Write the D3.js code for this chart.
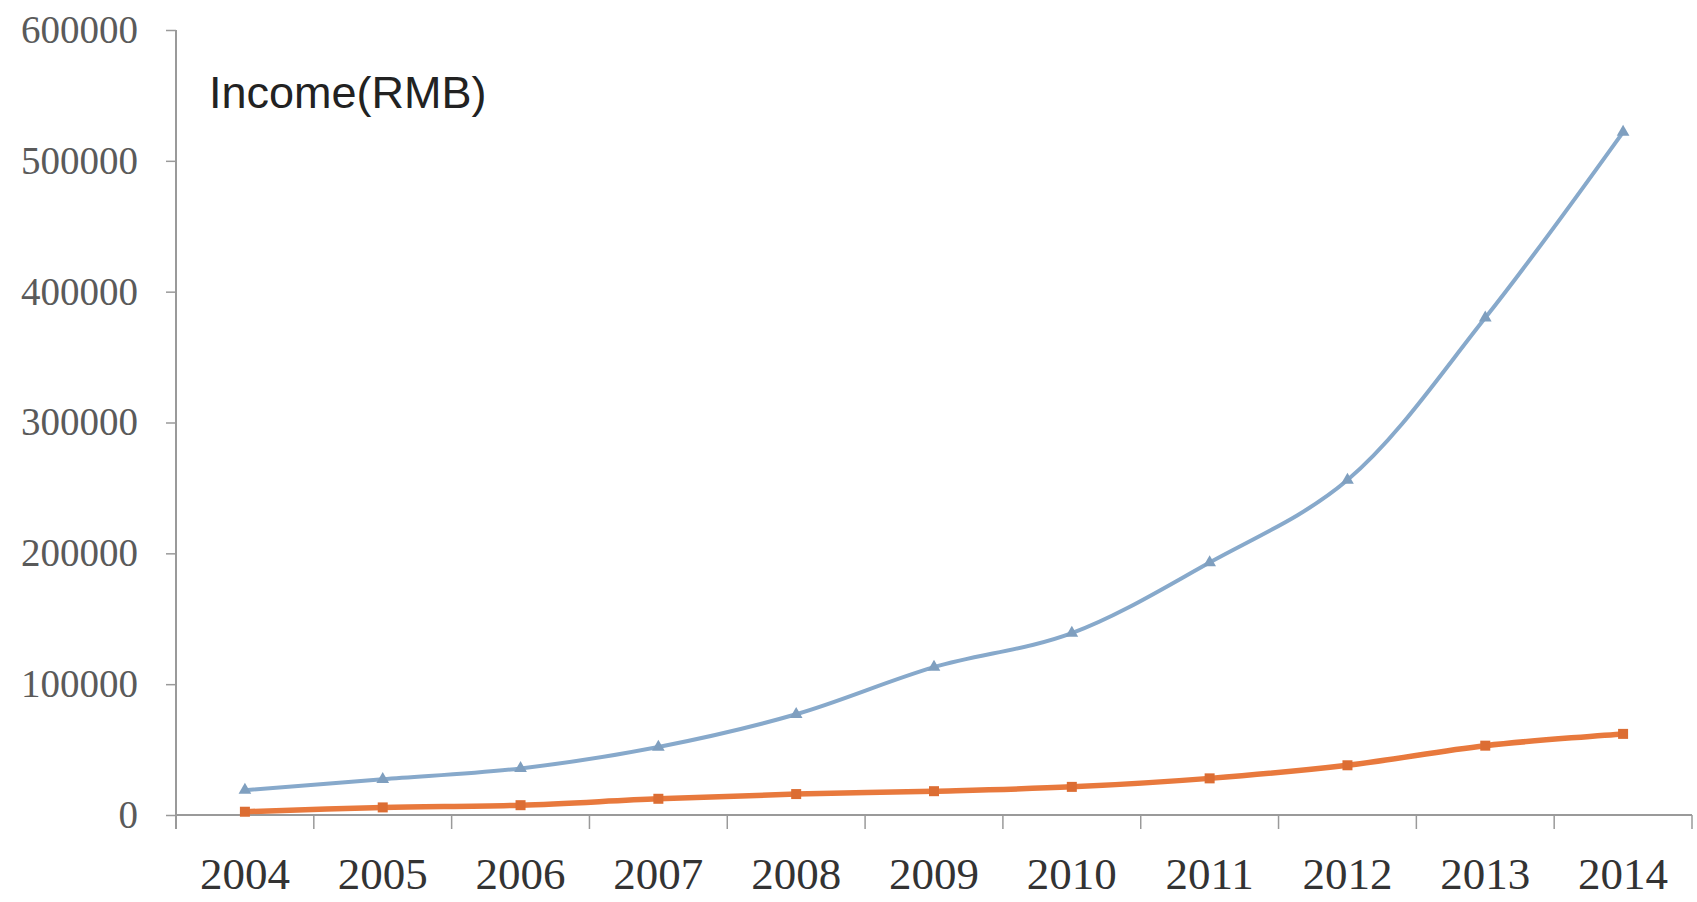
<!DOCTYPE html>
<html>
<head>
<meta charset="utf-8">
<script src="https://cdn.jsdelivr.net/npm/d3@7"></script>
<style>
  html, body { margin: 0; padding: 0; background: #fff; }
  svg { display: block; }
</style>
</head>
<body>
<svg id="chart" width="1697" height="902"></svg>
<script>
const years = ["2004","2005","2006","2007","2008","2009","2010","2011","2012","2013","2014"];
const blueSeries = [19000, 27300, 35600, 52000, 77000, 113000, 139000, 193000, 256000, 380000, 522000];
const orangeSeries = [2500, 5800, 7500, 12400, 16000, 18200, 21500, 28000, 38000, 53000, 62000];
const yTicks = [0, 100000, 200000, 300000, 400000, 500000, 600000];
const titleText = "Income(RMB)";

(function () {
const svg = d3.select("#chart");
const mLeft = 176, mRight = 1692, mTop = 30, mBottom = 815;

const x = d3.scaleBand().domain(years).range([mLeft, mRight]).padding(0);
const y = d3.scaleLinear().domain([0, 600000]).range([mBottom, mTop]);

// Y axis
const yAxis = d3.axisLeft(y).tickValues(yTicks).tickSize(10).tickPadding(28).tickFormat(d3.format("d"));
const gy = svg.append("g").attr("transform", `translate(${mLeft},0)`).call(yAxis);
gy.select(".domain").attr("stroke", "#9a9a9a").attr("stroke-width", 2).attr("d", `M0,${mTop}V${mBottom + 14}`);
gy.selectAll(".tick line").attr("stroke", "#9a9a9a").attr("stroke-width", 1.5);
gy.selectAll(".tick text")
  .attr("font-family", "'Liberation Serif', 'DejaVu Serif', serif")
  .attr("font-size", 39)
  .attr("fill", "#5a5a5a");

// X axis
const gx = svg.append("g").attr("transform", `translate(0,${mBottom})`);
gx.append("line").attr("x1", mLeft).attr("x2", mRight).attr("y1", 0).attr("y2", 0)
  .attr("stroke", "#9a9a9a").attr("stroke-width", 2);
const bounds = years.map(d => x(d)).concat([mRight]).slice(1);
gx.selectAll("line.tk").data(bounds).enter().append("line").attr("class", "tk")
  .attr("x1", d => d).attr("x2", d => d).attr("y1", 0).attr("y2", 14)
  .attr("stroke", "#9a9a9a").attr("stroke-width", 1.5);
gx.selectAll("text").data(years).enter().append("text")
  .attr("x", d => x(d) + x.bandwidth() / 2)
  .attr("y", 74)
  .attr("text-anchor", "middle")
  .attr("font-family", "'Liberation Serif', 'DejaVu Serif', serif")
  .attr("font-size", 45)
  .attr("fill", "#333")
  .text(d => d);

// Title
svg.append("text").attr("x", 209).attr("y", 108)
  .attr("font-family", "'Liberation Sans', Arial, sans-serif")
  .attr("font-size", 45)
  .attr("fill", "#222")
  .text(titleText);

const cx = d => x(d) + x.bandwidth() / 2;
const line = d3.line().x((d, i) => cx(years[i])).y(d => y(d)).curve(d3.curveCatmullRom.alpha(0.5));

// Orange series
svg.append("path").datum(orangeSeries).attr("d", line)
  .attr("fill", "none").attr("stroke", "#e8793d").attr("stroke-width", 5.5).attr("stroke-linejoin", "round");
svg.selectAll("rect.om").data(orangeSeries).enter().append("rect").attr("class", "om")
  .attr("x", (d, i) => cx(years[i]) - 5).attr("y", d => y(d) - 5)
  .attr("width", 10).attr("height", 10).attr("fill", "#dc6d33");

// Blue series
svg.append("path").datum(blueSeries).attr("d", line)
  .attr("fill", "none").attr("stroke", "#87a9cb").attr("stroke-width", 4).attr("stroke-linejoin", "round");
const tri = d3.symbol().type(d3.symbolTriangle).size(70);
svg.selectAll("path.bm").data(blueSeries).enter().append("path").attr("class", "bm")
  .attr("d", tri)
  .attr("transform", (d, i) => `translate(${cx(years[i])},${y(d)})`)
  .attr("fill", "#7f9fbf");
})();
</script>
</body>
</html>
